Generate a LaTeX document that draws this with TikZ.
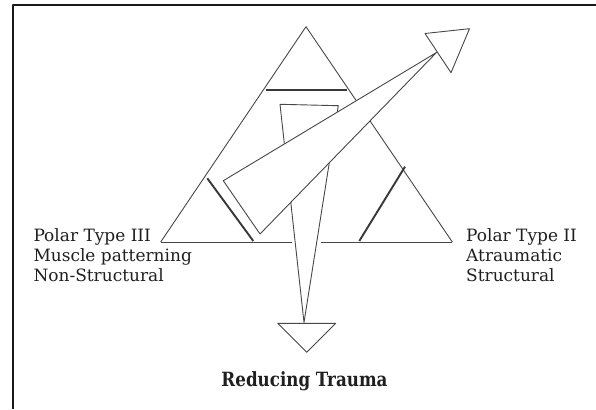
\documentclass[tikz,border=0pt]{standalone}
\usepackage{fontspec}
\setmainfont{DejaVu Serif}
\newlength\mylblw
\begin{document}
\settowidth\mylblw{\fontsize{10}{12}\selectfont Muscle patterning}%
\pgfmathsetmacro\mylblsize{10*158.4/\mylblw}%
\begin{tikzpicture}[x=1pt,y=-1pt, line join=round,
  ln/.style={draw=black!72, line width=0.9pt},
  heavy/.style={draw=black!78, line width=1.9pt},
  lbl/.style={anchor=base west, inner sep=0pt, font=\fontsize{\mylblsize}{20}\selectfont, text=black!88},
  ttl/.style={anchor=base, inner sep=0pt, text=black!88}]
\useasboundingbox (0,0) rectangle (596,409);
% frame
\coordinate (F1) at (13,409);
\coordinate (F2) at (13,5.5);
\coordinate (F3) at (596,5.5);
\draw[line width=2pt, black!90] (F1) -- (F2) -- (F3);
% big triangle
\coordinate (A) at (306,26.7);
\coordinate (BL) at (160.7,242);
\coordinate (BR) at (452.3,242);
\coordinate (G1) at (291.7,242);
\coordinate (G2) at (321,242);
\draw[ln] (BL) -- (A) -- (BR);
\draw[ln] (BL) -- (G1);
\draw[ln] (G2) -- (BR);
% inner lines
\coordinate (H1) at (265.7,90);
\coordinate (H2) at (347.3,90);
\draw[heavy, line width=1.6pt] (H1) -- (H2);
\coordinate (L1) at (207.3,178.3);
\coordinate (L2) at (253.3,241);
\draw[heavy] (L1) -- (L2);
\coordinate (R1) at (405,166.7);
\coordinate (R2) at (359.3,241);
\draw[heavy] (R1) -- (R2);
% downward wedge and head
\coordinate (W1) at (280,104.3);
\coordinate (W2) at (338.3,105.7);
\coordinate (Wt) at (304,322.5);
\filldraw[ln, fill=white] (W1) -- (W2) -- (Wt) -- cycle;
\coordinate (D1) at (277.7,323.3);
\coordinate (D2) at (335.7,323.3);
\coordinate (D3) at (306.7,352.3);
\filldraw[ln, fill=white] (D1) -- (D2) -- (D3) -- cycle;
% upward-right wedge and head
\coordinate (U1) at (223.3,180.7);
\coordinate (U2) at (260,234);
\coordinate (Ut) at (436.5,52.5);
\filldraw[ln, fill=white] (U1) -- (Ut) -- (U2) -- cycle;
\coordinate (K1) at (425,33.5);
\coordinate (K2) at (469.5,28.7);
\coordinate (K3) at (451,72.7);
\filldraw[ln, fill=white] (K1) -- (K2) -- (K3) -- cycle;
% labels
\node[lbl] (l1) at (33.3,241) {Polar Type III};
\node[lbl] (l2) at (33.3,261.2) {Muscle patterning};
\node[lbl] (l3) at (33.3,281.5) {Non-Structural};
\node[lbl] (r1) at (466,241) {Polar Type II};
\node[lbl] (r2) at (466,261.2) {Atraumatic};
\node[lbl] (r3) at (466,281.5) {Structural};
\node[ttl] (t) at (304.5,386) {\resizebox{166pt}{\height}{\fontsize{19.6}{20}\selectfont\bfseries Reducing Trauma}};
\end{tikzpicture}
\end{document}
